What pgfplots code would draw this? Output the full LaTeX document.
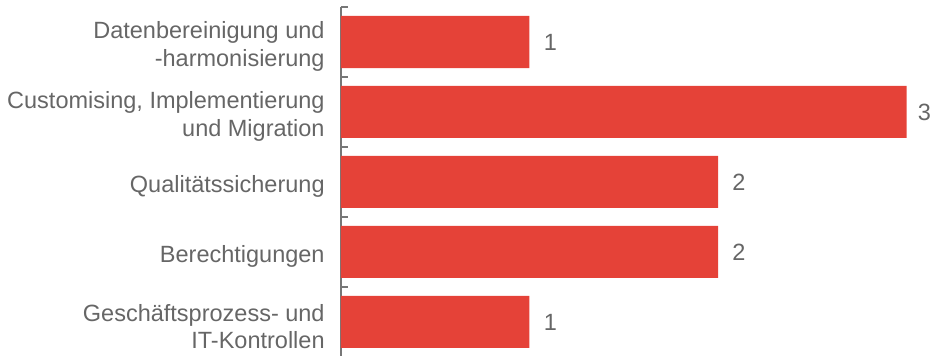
\documentclass[border=0pt]{standalone}
\usepackage{pgfplots}
\pgfplotsset{compat=1.18}
\usepackage{fontspec}
\setmainfont{Liberation Sans}

\definecolor{barred}{HTML}{E54238}
\definecolor{labelgray}{HTML}{666666}
\definecolor{axisgray}{HTML}{777777}

\begin{document}
\begin{tikzpicture}
\begin{axis}[
  at={(0,0)}, anchor=south west,
  scale only axis,
  width=282.75pt, height=175pt,
  xbar, bar width=26pt,
  xmin=0, xmax=3,
  ymin=-0.5, ymax=4.5,
  y dir=reverse,
  axis x line=none,
  axis y line*=left,
  axis line style={-, draw=axisgray, line width=0.8pt},
  ytick={0,1,2,3,4},
  yticklabels={
    {Datenbereinigung und\\-harmonisierung},
    {Customising, Implementierung\\und Migration},
    {Qualitätssicherung},
    {Berechtigungen},
    {Geschäftsprozess- und\\IT-Kontrollen}},
  minor ytick={-0.5,0.5,1.5,2.5,3.5,4.5},
  tick align=inside,
  major tick length=0pt,
  minor tick length=3.5pt,
  minor tick style={draw=axisgray, line width=0.8pt},
  yticklabel style={inner sep=0pt, xshift=-8pt, yshift=-2.2pt, align=right,
    font=\fontsize{11.75}{13.6}\selectfont, text=labelgray},
  nodes near coords,
  /pgf/number format/assume math mode=true,
  visualization depends on={rawx \as \barval},
  every node near coord/.append style={anchor=west, inner sep=0pt,
    xshift={(\barval>2.5) ? 5.5 : 7},
    font=\fontsize{11.75}{13.6}\selectfont, text=labelgray},
  clip=false,
]
\addplot[fill=barred, draw=none] coordinates {
  (1,0) (3,1) (2,2) (2,3) (1,4)
};
\end{axis}
\pgfresetboundingbox
\useasboundingbox (-170.5pt,0.5pt) rectangle (294.5pt,178.5pt);
\end{tikzpicture}
\end{document}
